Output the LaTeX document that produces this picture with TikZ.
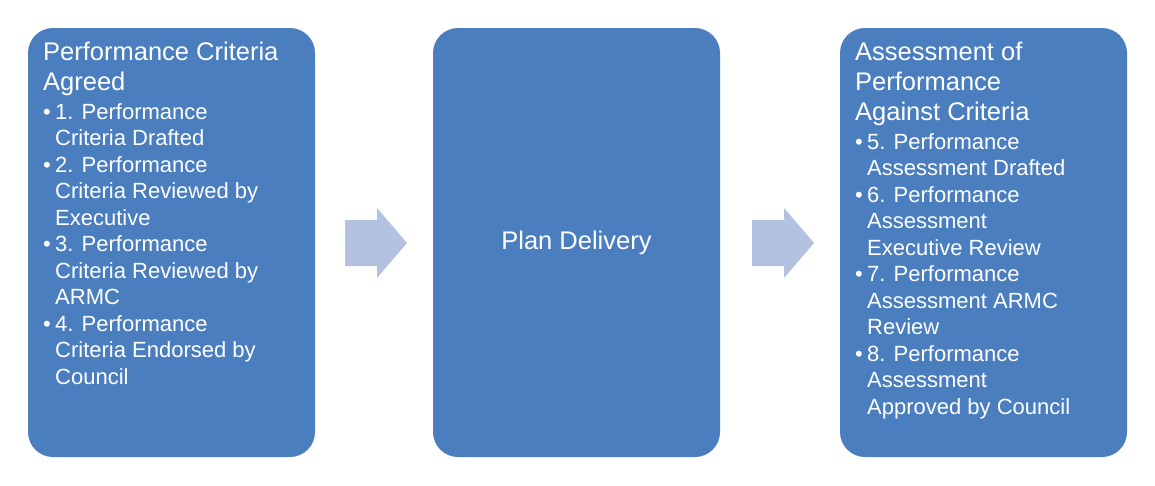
\documentclass[tikz,border=0pt]{standalone}
\usepackage{fontspec}
\setmainfont{Liberation Sans}
\definecolor{boxblue}{HTML}{4A7EBF}
\definecolor{arrowgray}{HTML}{B3C2DE}
\newcommand{\itm}[1]{\par\hangindent=12pt\hangafter=1\noindent\hbox to 12pt{\textbullet\hfil}#1}
\newcommand{\stagebody}[1]{\parbox[t]{275pt}{\raggedright #1}}
\tikzset{
  stage/.style={fill=boxblue, rounded corners=25pt, minimum width=287pt, minimum height=429pt, inner sep=0pt},
  stagetext/.style={anchor=north west, text=white, inner sep=0pt},
  flow/.style={fill=arrowgray}
}
\begin{document}
\begin{tikzpicture}[x=1pt,y=-1pt]
\useasboundingbox (0,0) rectangle (1155,485);
\node[stage] (agreed) at (171.5,242.5) {};
\node[stage] (delivery) at (576.5,242.5) {};
\node[stage] (assess) at (983.5,242.5) {};
\fill[flow] (345,220) -- (377,220) -- (377,208) -- (407,243) -- (377,278) -- (377,266) -- (345,266) -- cycle;
\fill[flow] (752,220) -- (784,220) -- (784,208) -- (814,243) -- (784,278) -- (784,266) -- (752,266) -- cycle;
% left box
\node[stagetext] (agreedtext) at (43,42) {\stagebody{\fontsize{25.5}{30}\selectfont Performance Criteria\newline Agreed\par
\vspace{2pt}\fontsize{22}{26.5}\selectfont
\itm{1. Performance\newline Criteria Drafted}
\itm{2. Performance\newline Criteria Reviewed by\newline Executive}
\itm{3. Performance\newline Criteria Reviewed by\newline ARMC}
\itm{4. Performance\newline Criteria Endorsed by\newline Council}}};
% middle box
\node[text=white, font=\fontsize{25.5}{30}\selectfont] (deliverytext) at (delivery) {Plan Delivery};
% right box
\node[stagetext] (assesstext) at (855,42) {\stagebody{\fontsize{25.5}{30}\selectfont Assessment of\newline Performance\newline Against Criteria\par
\vspace{2pt}\fontsize{22}{26.5}\selectfont
\itm{5. Performance\newline Assessment Drafted}
\itm{6. Performance\newline Assessment\newline Executive Review}
\itm{7. Performance\newline Assessment ARMC\newline Review}
\itm{8. Performance\newline Assessment\newline Approved by Council}}};
\end{tikzpicture}
\end{document}
